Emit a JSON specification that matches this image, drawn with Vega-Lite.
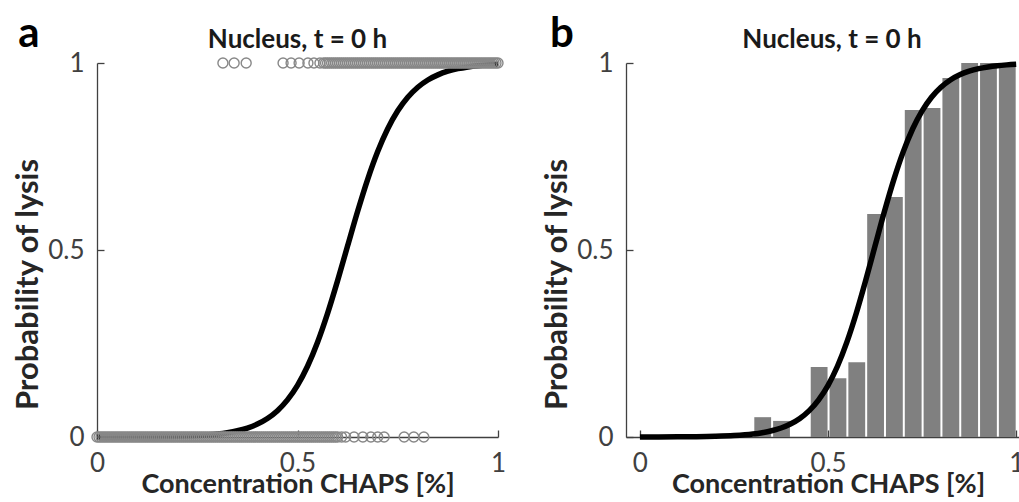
{
  "$schema": "https://vega.github.io/schema/vega-lite/v6.json",
  "padding": {"left": 12, "top": 12, "right": 0, "bottom": 0},
  "background": "white",
  "bounds": "flush",
  "spacing": 128,
  "config": {
    "font": "Lato",
    "view": {"stroke": null},
    "axis": {
      "grid": false,
      "domainColor": "#404040",
      "tickColor": "#404040",
      "tickSize": -7,
      "domainWidth": 1.3,
      "tickWidth": 1.3,
      "labelFont": "Lato",
      "labelFontSize": 26,
      "labelColor": "#404040",
      "labelFlush": false,
      "labelPadding": 20,
      "titleFont": "Lato",
      "titleFontWeight": "bold",
      "titleColor": "#262626"
    },
    "title": {"font": "Lato", "fontSize": 26, "fontWeight": "bold", "color": "#1a1a1a", "offset": -40}
  },
  "datasets": {
    "fit": [
      {"conc": 0, "p": 0.0001}, {"conc": 0.05, "p": 0.0002}, {"conc": 0.1, "p": 0.0004}, {"conc": 0.15, "p": 0.0008},
      {"conc": 0.2, "p": 0.0018}, {"conc": 0.25, "p": 0.0038}, {"conc": 0.3, "p": 0.0079}, {"conc": 0.325, "p": 0.0115},
      {"conc": 0.35, "p": 0.0166}, {"conc": 0.375, "p": 0.024}, {"conc": 0.4, "p": 0.0346}, {"conc": 0.425, "p": 0.0495},
      {"conc": 0.45, "p": 0.0704}, {"conc": 0.475, "p": 0.0993}, {"conc": 0.5, "p": 0.1382}, {"conc": 0.525, "p": 0.1892},
      {"conc": 0.55, "p": 0.2535}, {"conc": 0.575, "p": 0.3307}, {"conc": 0.6, "p": 0.4182}, {"conc": 0.625, "p": 0.5112},
      {"conc": 0.65, "p": 0.6035}, {"conc": 0.675, "p": 0.6889}, {"conc": 0.7, "p": 0.7631}, {"conc": 0.725, "p": 0.8242},
      {"conc": 0.75, "p": 0.8721}, {"conc": 0.775, "p": 0.9084}, {"conc": 0.8, "p": 0.9352}, {"conc": 0.825, "p": 0.9546},
      {"conc": 0.85, "p": 0.9683}, {"conc": 0.875, "p": 0.978}, {"conc": 0.9, "p": 0.9848}, {"conc": 0.925, "p": 0.9895},
      {"conc": 0.95, "p": 0.9928}, {"conc": 0.975, "p": 0.995}, {"conc": 1, "p": 0.9966}
    ],
    "bins": [
      {"lo": 0.30, "hi": 0.35, "p": 0.053}, {"lo": 0.35, "hi": 0.40, "p": 0.043},
      {"lo": 0.45, "hi": 0.50, "p": 0.187}, {"lo": 0.50, "hi": 0.55, "p": 0.157},
      {"lo": 0.55, "hi": 0.60, "p": 0.200}, {"lo": 0.60, "hi": 0.65, "p": 0.596},
      {"lo": 0.65, "hi": 0.70, "p": 0.642}, {"lo": 0.70, "hi": 0.75, "p": 0.874},
      {"lo": 0.75, "hi": 0.80, "p": 0.880}, {"lo": 0.80, "hi": 0.85, "p": 0.960},
      {"lo": 0.85, "hi": 0.90, "p": 1.0}, {"lo": 0.90, "hi": 0.95, "p": 1.0},
      {"lo": 0.95, "hi": 1.00, "p": 0.995}
    ],
    "obs": [
      {"conc":0,"lysed":0},{"conc":0.005,"lysed":0},{"conc":0.01,"lysed":0},{"conc":0.015,"lysed":0},{"conc":0.02,"lysed":0},
      {"conc":0.025,"lysed":0},{"conc":0.03,"lysed":0},{"conc":0.035,"lysed":0},{"conc":0.04,"lysed":0},{"conc":0.045,"lysed":0},
      {"conc":0.05,"lysed":0},{"conc":0.055,"lysed":0},{"conc":0.06,"lysed":0},{"conc":0.065,"lysed":0},{"conc":0.07,"lysed":0},
      {"conc":0.075,"lysed":0},{"conc":0.08,"lysed":0},{"conc":0.085,"lysed":0},{"conc":0.09,"lysed":0},{"conc":0.095,"lysed":0},
      {"conc":0.1,"lysed":0},{"conc":0.105,"lysed":0},{"conc":0.11,"lysed":0},{"conc":0.115,"lysed":0},{"conc":0.12,"lysed":0},
      {"conc":0.125,"lysed":0},{"conc":0.13,"lysed":0},{"conc":0.135,"lysed":0},{"conc":0.14,"lysed":0},{"conc":0.145,"lysed":0},
      {"conc":0.15,"lysed":0},{"conc":0.155,"lysed":0},{"conc":0.16,"lysed":0},{"conc":0.165,"lysed":0},{"conc":0.17,"lysed":0},
      {"conc":0.175,"lysed":0},{"conc":0.18,"lysed":0},{"conc":0.185,"lysed":0},{"conc":0.19,"lysed":0},{"conc":0.195,"lysed":0},
      {"conc":0.2,"lysed":0},{"conc":0.205,"lysed":0},{"conc":0.21,"lysed":0},{"conc":0.215,"lysed":0},{"conc":0.22,"lysed":0},
      {"conc":0.225,"lysed":0},{"conc":0.23,"lysed":0},{"conc":0.235,"lysed":0},{"conc":0.24,"lysed":0},{"conc":0.245,"lysed":0},
      {"conc":0.25,"lysed":0},{"conc":0.255,"lysed":0},{"conc":0.26,"lysed":0},{"conc":0.265,"lysed":0},{"conc":0.27,"lysed":0},
      {"conc":0.275,"lysed":0},{"conc":0.28,"lysed":0},{"conc":0.285,"lysed":0},{"conc":0.29,"lysed":0},{"conc":0.295,"lysed":0},
      {"conc":0.3,"lysed":0},{"conc":0.305,"lysed":0},{"conc":0.31,"lysed":0},{"conc":0.315,"lysed":0},{"conc":0.32,"lysed":0},
      {"conc":0.325,"lysed":0},{"conc":0.33,"lysed":0},{"conc":0.335,"lysed":0},{"conc":0.34,"lysed":0},{"conc":0.345,"lysed":0},
      {"conc":0.35,"lysed":0},{"conc":0.355,"lysed":0},{"conc":0.36,"lysed":0},{"conc":0.365,"lysed":0},{"conc":0.37,"lysed":0},
      {"conc":0.375,"lysed":0},{"conc":0.38,"lysed":0},{"conc":0.385,"lysed":0},{"conc":0.39,"lysed":0},{"conc":0.395,"lysed":0},
      {"conc":0.4,"lysed":0},{"conc":0.405,"lysed":0},{"conc":0.41,"lysed":0},{"conc":0.415,"lysed":0},{"conc":0.42,"lysed":0},
      {"conc":0.425,"lysed":0},{"conc":0.43,"lysed":0},{"conc":0.435,"lysed":0},{"conc":0.44,"lysed":0},{"conc":0.445,"lysed":0},
      {"conc":0.45,"lysed":0},{"conc":0.455,"lysed":0},{"conc":0.46,"lysed":0},{"conc":0.465,"lysed":0},{"conc":0.47,"lysed":0},
      {"conc":0.475,"lysed":0},{"conc":0.48,"lysed":0},{"conc":0.485,"lysed":0},{"conc":0.49,"lysed":0},{"conc":0.495,"lysed":0},
      {"conc":0.5,"lysed":0},{"conc":0.505,"lysed":0},{"conc":0.51,"lysed":0},{"conc":0.515,"lysed":0},{"conc":0.52,"lysed":0},
      {"conc":0.525,"lysed":0},{"conc":0.53,"lysed":0},{"conc":0.535,"lysed":0},{"conc":0.54,"lysed":0},{"conc":0.545,"lysed":0},
      {"conc":0.55,"lysed":0},{"conc":0.555,"lysed":0},{"conc":0.56,"lysed":0},{"conc":0.565,"lysed":0},{"conc":0.57,"lysed":0},
      {"conc":0.575,"lysed":0},{"conc":0.58,"lysed":0},{"conc":0.585,"lysed":0},{"conc":0.59,"lysed":0},{"conc":0.595,"lysed":0},
      {"conc":0.6,"lysed":0},{"conc":0.61,"lysed":0},{"conc":0.62,"lysed":0},{"conc":0.641,"lysed":0},{"conc":0.663,"lysed":0},
      {"conc":0.683,"lysed":0},{"conc":0.7,"lysed":0},{"conc":0.716,"lysed":0},{"conc":0.766,"lysed":0},{"conc":0.79,"lysed":0},
      {"conc":0.815,"lysed":0},
      {"conc":0.314,"lysed":1},{"conc":0.342,"lysed":1},{"conc":0.372,"lysed":1},{"conc":0.464,"lysed":1},{"conc":0.484,"lysed":1},
      {"conc":0.504,"lysed":1},{"conc":0.526,"lysed":1},{"conc":0.541,"lysed":1},{"conc":0.556,"lysed":1},
      {"conc":0.565,"lysed":1},{"conc":0.57,"lysed":1},{"conc":0.575,"lysed":1},{"conc":0.58,"lysed":1},{"conc":0.585,"lysed":1},
      {"conc":0.59,"lysed":1},{"conc":0.595,"lysed":1},{"conc":0.6,"lysed":1},{"conc":0.605,"lysed":1},{"conc":0.61,"lysed":1},
      {"conc":0.615,"lysed":1},{"conc":0.62,"lysed":1},{"conc":0.625,"lysed":1},{"conc":0.63,"lysed":1},{"conc":0.635,"lysed":1},
      {"conc":0.64,"lysed":1},{"conc":0.645,"lysed":1},{"conc":0.65,"lysed":1},{"conc":0.655,"lysed":1},{"conc":0.66,"lysed":1},
      {"conc":0.665,"lysed":1},{"conc":0.67,"lysed":1},{"conc":0.675,"lysed":1},{"conc":0.68,"lysed":1},{"conc":0.685,"lysed":1},
      {"conc":0.69,"lysed":1},{"conc":0.695,"lysed":1},{"conc":0.7,"lysed":1},{"conc":0.705,"lysed":1},{"conc":0.71,"lysed":1},
      {"conc":0.715,"lysed":1},{"conc":0.72,"lysed":1},{"conc":0.725,"lysed":1},{"conc":0.73,"lysed":1},{"conc":0.735,"lysed":1},
      {"conc":0.74,"lysed":1},{"conc":0.745,"lysed":1},{"conc":0.75,"lysed":1},{"conc":0.755,"lysed":1},{"conc":0.76,"lysed":1},
      {"conc":0.765,"lysed":1},{"conc":0.77,"lysed":1},{"conc":0.775,"lysed":1},{"conc":0.78,"lysed":1},{"conc":0.785,"lysed":1},
      {"conc":0.79,"lysed":1},{"conc":0.795,"lysed":1},{"conc":0.8,"lysed":1},{"conc":0.805,"lysed":1},{"conc":0.81,"lysed":1},
      {"conc":0.815,"lysed":1},{"conc":0.82,"lysed":1},{"conc":0.825,"lysed":1},{"conc":0.83,"lysed":1},{"conc":0.835,"lysed":1},
      {"conc":0.84,"lysed":1},{"conc":0.845,"lysed":1},{"conc":0.85,"lysed":1},{"conc":0.855,"lysed":1},{"conc":0.86,"lysed":1},
      {"conc":0.865,"lysed":1},{"conc":0.87,"lysed":1},{"conc":0.875,"lysed":1},{"conc":0.88,"lysed":1},{"conc":0.885,"lysed":1},
      {"conc":0.89,"lysed":1},{"conc":0.895,"lysed":1},{"conc":0.9,"lysed":1},{"conc":0.905,"lysed":1},{"conc":0.91,"lysed":1},
      {"conc":0.915,"lysed":1},{"conc":0.92,"lysed":1},{"conc":0.925,"lysed":1},{"conc":0.93,"lysed":1},{"conc":0.935,"lysed":1},
      {"conc":0.94,"lysed":1},{"conc":0.945,"lysed":1},{"conc":0.95,"lysed":1},{"conc":0.955,"lysed":1},{"conc":0.96,"lysed":1},
      {"conc":0.965,"lysed":1},{"conc":0.97,"lysed":1},{"conc":0.975,"lysed":1},{"conc":0.98,"lysed":1},{"conc":0.985,"lysed":1},
      {"conc":0.99,"lysed":1},{"conc":0.995,"lysed":1},{"conc":1,"lysed":1}
    ]
  },
  "hconcat": [
    {
      "width": 401,
      "height": 374,
      "title": {"text": "Nucleus, t = 0 h"},
      "layer": [
        {
          "data": {"name": "fit"},
          "mark": {"type": "line", "color": "black", "strokeWidth": 5.5, "interpolate": "monotone", "clip": false},
          "encoding": {
            "x": {"field": "conc", "type": "quantitative", "scale": {"domain": [0, 1], "nice": false},
              "axis": {"values": [0, 0.5, 1], "format": "~g", "title": "Concentration CHAPS [%]", "titleFontSize": 27, "titlePadding": -5}},
            "y": {"field": "p", "type": "quantitative", "scale": {"domain": [0, 1], "nice": false},
              "axis": {"values": [0, 0.5, 1], "format": "~g", "title": "Probability of lysis", "titleFontSize": 31, "titlePadding": 3, "titleY": 221}}
          }
        },
        {
          "data": {"name": "obs"},
          "mark": {"type": "point", "shape": "circle", "filled": false, "color": "#888888", "size": 100, "strokeWidth": 1.4, "opacity": 1, "clip": false},
          "encoding": {
            "x": {"field": "conc", "type": "quantitative"},
            "y": {"field": "lysed", "type": "quantitative"}
          }
        },
        {
          "data": {"values": [{"label": "a"}]},
          "mark": {"type": "text", "fontSize": 42, "fontWeight": "bold", "font": "Lato", "color": "black", "baseline": "alphabetic", "align": "center"},
          "encoding": {
            "x": {"datum": -0.17},
            "y": {"datum": 1.043},
            "text": {"field": "label"}
          }
        }
      ]
    },
    {
      "width": 412,
      "height": 374,
      "title": {"text": "Nucleus, t = 0 h"},
      "layer": [
        {
          "data": {"name": "bins"},
          "mark": {"type": "bar", "color": "#808080", "binSpacing": 2},
          "encoding": {
            "x": {"field": "lo", "type": "quantitative", "bin": "binned", "scale": {"domain": [-0.037, 1.058], "nice": false, "zero": false},
              "axis": {"values": [0, 0.5, 1], "format": "~g", "title": "Concentration CHAPS [%]", "titleFontSize": 27, "titlePadding": -5, "titleX": 202}},
            "x2": {"field": "hi"},
            "y": {"field": "p", "type": "quantitative", "scale": {"domain": [0, 1], "nice": false},
              "axis": {"values": [0, 0.5, 1], "format": "~g", "title": "Probability of lysis", "titleFontSize": 31, "titlePadding": 3, "titleY": 221}}
          }
        },
        {
          "data": {"name": "fit"},
          "mark": {"type": "line", "color": "black", "strokeWidth": 5.5, "interpolate": "monotone", "clip": false},
          "encoding": {
            "x": {"field": "conc", "type": "quantitative"},
            "y": {"field": "p", "type": "quantitative"}
          }
        },
        {
          "data": {"values": [{"label": "b"}]},
          "mark": {"type": "text", "fontSize": 42, "fontWeight": "bold", "font": "Lato", "color": "black", "baseline": "alphabetic", "align": "center"},
          "encoding": {
            "x": {"datum": -0.207},
            "y": {"datum": 1.043},
            "text": {"field": "label"}
          }
        }
      ]
    }
  ]
}
